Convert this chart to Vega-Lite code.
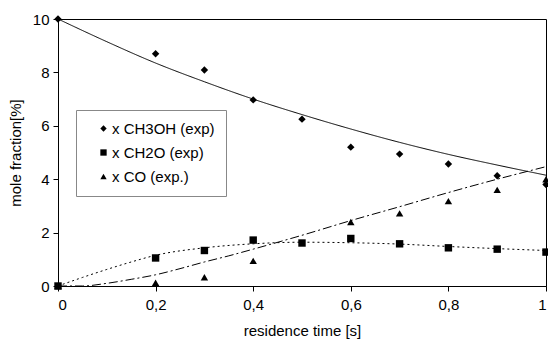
{
  "$schema": "https://vega.github.io/schema/vega-lite/v6.json",
  "width": 488,
  "height": 267,
  "autosize": {"type": "none"},
  "padding": {"left": 58, "top": 19, "right": 2, "bottom": 53},
  "background": "white",
  "config": {
    "font": "Liberation Sans",
    "view": {"stroke": "black", "strokeWidth": 1},
    "axis": {
      "domainColor": "black", "tickColor": "black", "grid": false,
      "labelColor": "black", "titleColor": "black",
      "labelFontSize": 15, "titleFontWeight": "normal", "tickSize": 5
    }
  },
  "datasets": {
    "exp": [
      {"t": 0, "v": 10, "s": "x CH3OH (exp)"},
      {"t": 0.2, "v": 8.7, "s": "x CH3OH (exp)"},
      {"t": 0.3, "v": 8.09, "s": "x CH3OH (exp)"},
      {"t": 0.4, "v": 6.97, "s": "x CH3OH (exp)"},
      {"t": 0.5, "v": 6.25, "s": "x CH3OH (exp)"},
      {"t": 0.6, "v": 5.2, "s": "x CH3OH (exp)"},
      {"t": 0.7, "v": 4.94, "s": "x CH3OH (exp)"},
      {"t": 0.8, "v": 4.57, "s": "x CH3OH (exp)"},
      {"t": 0.9, "v": 4.13, "s": "x CH3OH (exp)"},
      {"t": 1.0, "v": 3.8, "s": "x CH3OH (exp)"},
      {"t": 0, "v": 0, "s": "x CH2O (exp)"},
      {"t": 0.2, "v": 1.05, "s": "x CH2O (exp)"},
      {"t": 0.3, "v": 1.33, "s": "x CH2O (exp)"},
      {"t": 0.4, "v": 1.72, "s": "x CH2O (exp)"},
      {"t": 0.5, "v": 1.61, "s": "x CH2O (exp)"},
      {"t": 0.6, "v": 1.78, "s": "x CH2O (exp)"},
      {"t": 0.7, "v": 1.58, "s": "x CH2O (exp)"},
      {"t": 0.8, "v": 1.43, "s": "x CH2O (exp)"},
      {"t": 0.9, "v": 1.38, "s": "x CH2O (exp)"},
      {"t": 1.0, "v": 1.27, "s": "x CH2O (exp)"},
      {"t": 0, "v": 0, "s": "x CO (exp.)"},
      {"t": 0.2, "v": 0.12, "s": "x CO (exp.)"},
      {"t": 0.3, "v": 0.33, "s": "x CO (exp.)"},
      {"t": 0.4, "v": 0.94, "s": "x CO (exp.)"},
      {"t": 0.6, "v": 2.4, "s": "x CO (exp.)"},
      {"t": 0.7, "v": 2.72, "s": "x CO (exp.)"},
      {"t": 0.8, "v": 3.18, "s": "x CO (exp.)"},
      {"t": 0.9, "v": 3.6, "s": "x CO (exp.)"},
      {"t": 1.0, "v": 4.0, "s": "x CO (exp.)"}
    ],
    "model": [
      {"t": 0, "v": 10, "c": "CH3OH"},
      {"t": 0.1, "v": 9.15, "c": "CH3OH"},
      {"t": 0.2, "v": 8.35, "c": "CH3OH"},
      {"t": 0.3, "v": 7.65, "c": "CH3OH"},
      {"t": 0.4, "v": 7.0, "c": "CH3OH"},
      {"t": 0.5, "v": 6.42, "c": "CH3OH"},
      {"t": 0.6, "v": 5.88, "c": "CH3OH"},
      {"t": 0.7, "v": 5.38, "c": "CH3OH"},
      {"t": 0.8, "v": 4.93, "c": "CH3OH"},
      {"t": 0.9, "v": 4.53, "c": "CH3OH"},
      {"t": 1.0, "v": 4.15, "c": "CH3OH"},
      {"t": 0, "v": 0, "c": "CH2O"},
      {"t": 0.05, "v": 0.32, "c": "CH2O"},
      {"t": 0.1, "v": 0.62, "c": "CH2O"},
      {"t": 0.15, "v": 0.9, "c": "CH2O"},
      {"t": 0.2, "v": 1.15, "c": "CH2O"},
      {"t": 0.3, "v": 1.43, "c": "CH2O"},
      {"t": 0.4, "v": 1.58, "c": "CH2O"},
      {"t": 0.5, "v": 1.64, "c": "CH2O"},
      {"t": 0.6, "v": 1.62, "c": "CH2O"},
      {"t": 0.7, "v": 1.57, "c": "CH2O"},
      {"t": 0.8, "v": 1.48, "c": "CH2O"},
      {"t": 0.9, "v": 1.4, "c": "CH2O"},
      {"t": 1.0, "v": 1.33, "c": "CH2O"},
      {"t": 0, "v": 0, "c": "CO"},
      {"t": 0.05, "v": 0.0, "c": "CO"},
      {"t": 0.1, "v": 0.1, "c": "CO"},
      {"t": 0.15, "v": 0.25, "c": "CO"},
      {"t": 0.2, "v": 0.42, "c": "CO"},
      {"t": 0.25, "v": 0.65, "c": "CO"},
      {"t": 0.3, "v": 0.9, "c": "CO"},
      {"t": 0.35, "v": 1.13, "c": "CO"},
      {"t": 0.4, "v": 1.38, "c": "CO"},
      {"t": 0.5, "v": 1.9, "c": "CO"},
      {"t": 0.6, "v": 2.45, "c": "CO"},
      {"t": 0.7, "v": 2.97, "c": "CO"},
      {"t": 0.8, "v": 3.5, "c": "CO"},
      {"t": 0.9, "v": 4.0, "c": "CO"},
      {"t": 1.0, "v": 4.47, "c": "CO"}
    ]
  },
  "encoding": {
    "x": {
      "field": "t", "type": "quantitative",
      "scale": {"domain": [0, 1], "nice": false},
      "axis": {
        "title": "residence time [s]", "titleFontSize": 15,
        "values": [0, 0.2, 0.4, 0.6, 0.8, 1],
        "labelExpr": "replace(format(datum.value, '.1~f'), '.', ',')",
        "labelPadding": 6, "titlePadding": 11
      }
    },
    "y": {
      "field": "v", "type": "quantitative",
      "scale": {"domain": [0, 10], "nice": false},
      "axis": {
        "title": "mole fraction[%]", "titleFontSize": 15,
        "values": [0, 2, 4, 6, 8, 10],
        "labelPadding": 4, "titlePadding": 9
      }
    }
  },
  "layer": [
    {
      "data": {"name": "model"},
      "mark": {"type": "line", "color": "black", "strokeWidth": 1, "interpolate": "monotone"},
      "encoding": {
        "detail": {"field": "c"},
        "strokeDash": {
          "field": "c", "type": "nominal", "legend": null,
          "scale": {"domain": ["CH3OH", "CH2O", "CO"], "range": [[1, 0], [2, 3], [9, 3, 2, 3]]}
        }
      }
    },
    {
      "data": {"name": "exp"},
      "mark": {"type": "point", "filled": true, "color": "black", "opacity": 1, "size": 55},
      "encoding": {
        "shape": {
          "field": "s", "type": "nominal",
          "scale": {"domain": ["x CH3OH (exp)", "x CH2O (exp)", "x CO (exp.)"], "range": ["diamond", "square", "triangle-up"]},
          "legend": {
            "title": null,
            "orient": "none", "legendX": 18, "legendY": 91,
            "strokeColor": "#888", "fillColor": "white", "padding": 11,
            "symbolOffset": 9, "symbolSize": 40, "symbolFillColor": "black", "symbolStrokeColor": "black",
            "labelFontSize": 15, "labelColor": "black", "labelOffset": 1, "rowPadding": 8
          }
        }
      }
    }
  ]
}
